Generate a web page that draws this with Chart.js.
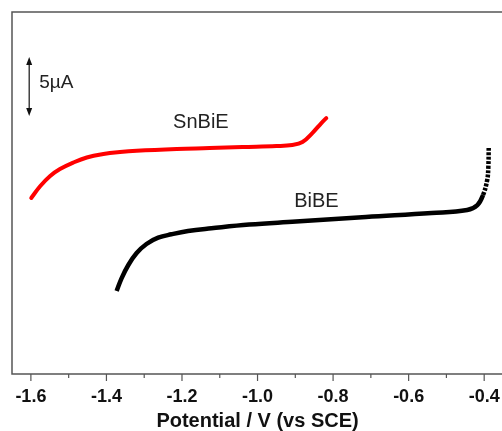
<!DOCTYPE html>
<html>
<head>
<meta charset="utf-8">
<script src="https://cdn.jsdelivr.net/npm/chart.js@4"></script>
<style>
  body { margin: 0; background: #fff; overflow: hidden; }
  #wrap { width: 512px; height: 431px; position: relative; }
</style>
</head>
<body>
<div id="wrap"><canvas id="cv"></canvas></div>
<script>
// ============================= data (V vs SCE, current in µA, arbitrary offset)

const xTicks = [-1.6, -1.4, -1.2, -1.0, -0.8, -0.6, -0.4]
const xTickLabels = ['-1.6', '-1.4', '-1.2', '-1.0', '-0.8', '-0.6', '-0.4']

const snbiePotential = [-1.599, -1.575, -1.549, -1.523, -1.488, -1.452, -1.408, -1.364, -1.320, -1.214, -1.127, -1.040, -0.950, -0.908, -0.881, -0.855, -0.831, -0.818]
const snbieCurrent   = [14.92, 15.93, 16.78, 17.37, 17.92, 18.35, 18.64, 18.81, 18.92, 19.07, 19.15, 19.24, 19.32, 19.41, 19.66, 20.42, 21.27, 21.69]

const bibePotential = [-1.373, -1.360, -1.342, -1.320, -1.294, -1.263, -1.228, -1.184, -1.122, -1.022, -0.898, -0.713, -0.539, -0.445, -0.418, -0.403, -0.392, -0.389, -0.388]
const bibeCurrent   = [7.03, 8.11, 9.24, 10.25, 11.02, 11.55, 11.84, 12.12, 12.35, 12.67, 12.92, 13.31, 13.64, 13.90, 14.32, 15.17, 16.44, 17.54, 19.15]

const labels = [
    { text: 'SnBiE', x: -1.150, y: 21.31 },
    { text: 'BiBE', x: -0.844, y: 14.58 }
]
const scaleBar = { x: -1.6045, top: 26.86, bottom: 21.86, text: '5\u00B5A' }

const toPoints = (xs, ys) => xs.map((x, i) => ({ x: x, y: ys[i] }))

const FONT = '"Liberation Sans", Arial, sans-serif'

// ============================= frame, minor ticks, labels and the 5µA scale bar

const decor = {
    id: 'decor',
    afterDraw(chart) {
        const { ctx, chartArea: a, scales: { x, y } } = chart
        ctx.save()

        // frame
        ctx.strokeStyle = '#555'
        ctx.lineWidth = 1.5
        ctx.strokeRect(a.left, a.top, a.right - a.left, a.bottom - a.top)

        // ticks, outward
        ctx.lineWidth = 1.2
        for (let v = -1.6; v <= -0.35; v += 0.1) {
            const px = x.getPixelForValue(v)
            const major = Math.abs(Math.round(v * 10) % 2) === 0
            ctx.beginPath()
            ctx.moveTo(px, a.bottom)
            ctx.lineTo(px, a.bottom + (major ? 7 : 4))
            ctx.stroke()
        }

        // curve labels
        ctx.fillStyle = '#222'
        ctx.font = '20px ' + FONT
        ctx.textAlign = 'center'
        ctx.textBaseline = 'middle'
        labels.forEach(l => ctx.fillText(l.text, x.getPixelForValue(l.x), y.getPixelForValue(l.y)))

        // scale bar with arrow heads
        const bx = x.getPixelForValue(scaleBar.x)
        const by1 = y.getPixelForValue(scaleBar.top)
        const by2 = y.getPixelForValue(scaleBar.bottom)
        ctx.strokeStyle = '#111'
        ctx.fillStyle = '#111'
        ctx.lineWidth = 1.2
        ctx.beginPath()
        ctx.moveTo(bx, by1 + 4)
        ctx.lineTo(bx, by2 - 4)
        ctx.stroke()
        ctx.beginPath()
        ctx.moveTo(bx, by1); ctx.lineTo(bx - 3, by1 + 8); ctx.lineTo(bx + 3, by1 + 8); ctx.closePath()
        ctx.moveTo(bx, by2); ctx.lineTo(bx - 3, by2 - 8); ctx.lineTo(bx + 3, by2 - 8); ctx.closePath()
        ctx.fill()
        ctx.textAlign = 'left'
        ctx.fillStyle = '#222'
        ctx.font = '19px ' + FONT
        ctx.fillText(scaleBar.text, bx + 10, (by1 + by2) / 2 - 4)

        ctx.restore()
    }
}

// ============================= the chart

const tailStart = 15 // sparse measured points at the end of the BiBE sweep

new Chart(document.getElementById('cv'), {
    type: 'line',
    data: {
        datasets: [{
            data: toPoints(snbiePotential, snbieCurrent),
            borderColor: '#ff0000',
            borderWidth: 4,
            borderCapStyle: 'round',
            pointRadius: 0,
            tension: 0.4
        }, {
            data: toPoints(bibePotential, bibeCurrent),
            borderColor: '#000',
            borderWidth: 4.5,
            pointRadius: 0,
            tension: 0.4,
            segment: {
                borderDash: c => c.p0DataIndex >= tailStart ? [3, 1.5] : undefined
            }
        }]
    },
    options: {
        responsive: true,
        maintainAspectRatio: false,
        animation: false,
        layout: { padding: { left: 12, top: 12, right: 8, bottom: 0 } },
        plugins: { legend: false, tooltip: { enabled: false } },
        scales: {
            x: {
                type: 'linear',
                min: -1.65,
                max: -0.35,
                afterBuildTicks: s => { s.ticks = xTicks.map(v => ({ value: v })) },
                afterFit: s => { s.height = 57 },
                grid: { display: false, drawTicks: false },
                border: { display: false },
                ticks: {
                    padding: 12,
                    color: '#111',
                    font: { family: FONT, size: 18, weight: 'bold' },
                    callback: (v, i) => xTickLabels[i]
                },
                title: {
                    display: true,
                    text: 'Potential / V (vs SCE)',
                    color: '#111',
                    padding: { top: 0, bottom: -2 },
                    font: { family: FONT, size: 20, weight: 'bold' }
                }
            },
            y: {
                display: false,
                min: 0,
                max: 30.68
            }
        }
    },
    plugins: [decor]
})
</script>
</body>
</html>
